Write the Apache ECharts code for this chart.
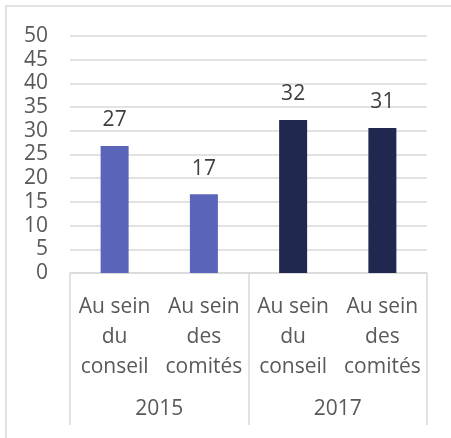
<!DOCTYPE html>
<html>
<head>
<meta charset="utf-8">
<script src="https://cdn.jsdelivr.net/npm/echarts@6/dist/echarts.min.js"></script>
<style>
  html, body { margin: 0; padding: 0; background: #fff; }
  #main { width: 451px; height: 438px; }
</style>
</head>
<body>
<div id="main"></div>
<script>
// categories / values
var categories = ['Au sein\ndu\nconseil', 'Au sein\ndes\ncomités', 'Au sein\ndu\nconseil', 'Au sein\ndes\ncomités'];
var years = ['2015', '2017'];
var values = [26.8, 16.6, 32.3, 30.6];
var labels = ['27', '17', '32', '31'];
var barColors = ['#5A65B9', '#5A65B9', '#20284F', '#20284F'];

var font = '"Open Sans", "Noto Sans", sans-serif';
var textColor = '#595959';
var lineColor = '#d9d9d9';

var myChart = echarts.init(document.getElementById('main'));

var data = values.map(function (v, i) {
  return { value: v, itemStyle: { color: barColors[i] } };
});

var option = {
  animation: false,
  backgroundColor: '#fff',
  grid: { left: 70, right: 24, top: 36, bottom: 165, containLabel: false },
  graphic: [{
    type: 'rect',
    shape: { x: 6, y: 6, width: 500, height: 500 },
    style: { fill: 'none', stroke: lineColor, lineWidth: 1.5 },
    silent: true
  }],
  xAxis: [{
    type: 'category',
    data: categories,
    axisLine: { show: true, lineStyle: { color: lineColor, width: 1.5 } },
    axisTick: { show: false },
    axisLabel: {
      color: textColor, fontFamily: font, fontSize: 21,
      lineHeight: 30, margin: 19, interval: 0
    }
  }, {
    type: 'category',
    data: years,
    position: 'bottom',
    axisLine: { show: false },
    axisTick: { show: true, length: 152, inside: false, lineStyle: { color: lineColor, width: 1.5 } },
    axisLabel: { color: textColor, fontFamily: font, fontSize: 21, margin: 126 }
  }],
  yAxis: {
    type: 'value',
    min: 0, max: 50, interval: 5,
    axisLine: { show: false },
    axisTick: { show: false },
    splitLine: { lineStyle: { color: lineColor, width: 1.5 } },
    axisLabel: { color: textColor, fontFamily: font, fontSize: 21, margin: 22 }
  },
  series: [{
    type: 'bar',
    xAxisIndex: 0,
    data: data,
    barWidth: 28,
    label: {
      show: true,
      position: 'top',
      distance: 15,
      color: '#404040',
      fontFamily: font,
      fontSize: 21,
      formatter: function (p) { return labels[p.dataIndex]; }
    }
  }]
};

myChart.setOption(option);
</script>
</body>
</html>
